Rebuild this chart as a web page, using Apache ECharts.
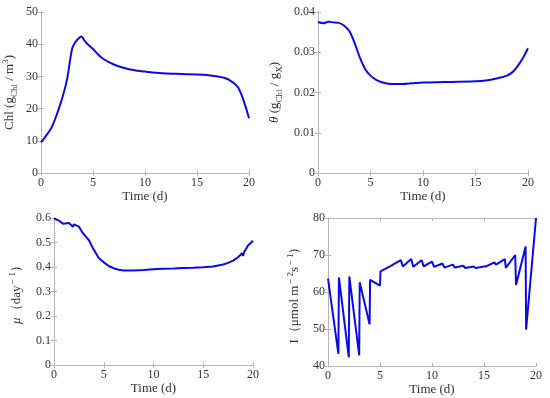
<!DOCTYPE html>
<html><head><meta charset="utf-8">
<script src="https://cdn.jsdelivr.net/npm/echarts@6/dist/echarts.min.js"></script>
<style>html,body{margin:0;padding:0;background:#fff}#c{width:550px;height:398px}</style>
</head><body><div id="c"></div>
<script>
// Panel 1: Chl concentration
const chlT = [0,0.5,1,1.5,2,2.5,3,3.3,3.6,3.9,4.2,4.5,5,5.5,6,7,8,9,10,11,12,13,14,15,16,17,18,19,20];
const chlV = [9.5,11.6,14.0,18.0,22.8,29.0,38.7,40.6,41.8,42.4,41.0,40.0,38.5,36.8,35.4,33.7,32.6,31.9,31.5,31.1,30.9,30.8,30.7,30.6,30.4,30.0,29.1,26.3,17.0];
// Panel 2: theta
const thT = [0,0.5,1,1.5,2,2.5,3,3.5,4,4.5,5,5.5,6,6.5,7,8,9,10,12,15,16,17,18,18.5,19,19.5,20];
const thV = [0.0375,0.0372,0.0376,0.0374,0.0373,0.0366,0.0352,0.0322,0.0286,0.0258,0.0242,0.0232,0.0226,0.0223,0.0221,0.0221,0.0223,0.0225,0.0226,0.0228,0.0230,0.0235,0.0242,0.0250,0.0265,0.0285,0.0310];
// Panel 3: mu
const muT = [0,0.5,0.9,1.0,1.5,1.9,2.0,2.5,2.9,3.0,3.5,4,4.5,5,5.5,6,6.5,7,8,9,10,11,12,13,14,15,16,17,17.5,18,18.5,18.9,19.0,19.1,19.5,20];
const muV = [0.598,0.589,0.577,0.585,0.580,0.564,0.574,0.565,0.538,0.546,0.510,0.470,0.437,0.419,0.404,0.395,0.389,0.386,0.386,0.388,0.391,0.393,0.394,0.396,0.397,0.399,0.402,0.410,0.417,0.426,0.440,0.456,0.445,0.460,0.488,0.507];
// Panel 4: light intensity I
const iT = [0,1,1.05,2,2.05,3,3.05,4,4.05,5,5.05,6,6.15,7,7.2,8,8.2,9,9.2,10,10.2,11,11.2,12,12.2,13,13.2,14,14.2,15,15.2,16,16.15,17,17.1,18,18.08,19,19.05,20];
const iV = [63.6,43.3,63.9,42.3,64.2,42.9,62.6,51.3,63.3,61.7,65.6,67.0,66.5,68.6,66.9,68.9,66.8,68.6,66.9,68.2,66.8,67.7,66.6,67.4,66.6,67.1,66.5,66.9,66.5,66.9,66.9,68.0,67.4,68.9,66.5,70.0,61.9,72.3,49.8,80.0];

const xTicks = [0,5,10,15,20];

const FONT = 'Liberation Serif';
const grids = [
  {left:36, top:12, width:213, height:161},
  {left:318, top:12, width:210, height:161},
  {left:54, top:218, width:199, height:147},
  {left:328, top:218, width:208, height:148}
];
const yCfg = [
  {min:0, max:50, interval:10, fmt:v=>String(v)},
  {min:0, max:0.04, interval:0.01, fmt:v=>v===0?'0':v.toFixed(2)},
  {min:0, max:0.6, interval:0.1, fmt:v=>v===0?'0':v.toFixed(1)},
  {min:40, max:80, interval:10, fmt:v=>String(v)}
];
const rich = {
  n:{fontFamily:FONT,fontSize:13,color:'#333',lineHeight:18},
  it:{fontFamily:FONT,fontSize:13,color:'#333',fontStyle:'italic',lineHeight:18},
  sub:{fontFamily:FONT,fontSize:9,color:'#333',verticalAlign:'bottom',lineHeight:18,padding:[4,0,0,0]},
  sup:{fontFamily:FONT,fontSize:9,color:'#333',verticalAlign:'top',lineHeight:18,padding:[0,0,6,0]}
};
const yNames = [
  '{n|Chl (g}{sub|Chl}{n| / m}{sup|3}{n|)}',
  '{it|θ}{n| (g}{sub|Chl}{n| / g}{sub|X}{n|)}',
  '{it|μ}{n|（day}{sup|－1}{n|）}',
  '{n|I（μmol m}{sup|－2}{n|s}{sup|－1}{n|）}'
];
const yGap = [22,34,28,24];
const axisGray = '#b4b4b4';
const xAxis = [], yAxis = [], series = [];
const data = [[chlT,chlV],[thT,thV],[muT,muV],[iT,iV]];
for (let i=0;i<4;i++){
  xAxis.push({type:'value',gridIndex:i,min:0,max:20,interval:5,position:'bottom',
    name:'Time (d)',nameLocation:'middle',nameGap:14,
    nameTextStyle:{fontFamily:FONT,fontSize:13,color:'#333'},
    axisLine:{show:true,lineStyle:{color:axisGray,width:1}},
    axisTick:{show:true,inside:true,length:3,lineStyle:{color:axisGray}},
    axisLabel:{fontFamily:FONT,fontSize:12,color:'#333',margin:4},
    splitLine:{show:false}});
  xAxis.push({type:'value',gridIndex:i,min:0,max:20,interval:5,position:'top',
    axisLine:{show:true,lineStyle:{color:axisGray,width:1}},
    axisTick:{show:true,inside:true,length:3,lineStyle:{color:axisGray}},
    axisLabel:{show:false},splitLine:{show:false}});
  const c = yCfg[i];
  yAxis.push({type:'value',gridIndex:i,min:c.min,max:c.max,interval:c.interval,position:'left',
    name:yNames[i],nameLocation:'middle',nameGap:yGap[i],nameRotate:90,
    nameTextStyle:{rich:rich},
    axisLine:{show:true,lineStyle:{color:axisGray,width:1}},
    axisTick:{show:true,inside:true,length:3,lineStyle:{color:axisGray}},
    axisLabel:{fontFamily:FONT,fontSize:12,color:'#333',margin:3,formatter:c.fmt},
    splitLine:{show:false}});
  yAxis.push({type:'value',gridIndex:i,min:c.min,max:c.max,interval:c.interval,position:'right',
    axisLine:{show:true,lineStyle:{color:axisGray,width:1}},
    axisTick:{show:true,inside:true,length:3,lineStyle:{color:axisGray}},
    axisLabel:{show:false},splitLine:{show:false}});
  const [T,V] = data[i];
  series.push({type:'line',xAxisIndex:2*i,yAxisIndex:2*i,showSymbol:false,
    smooth:(i<2)?0.3:false,
    lineStyle:{color:'#0a0ae6',width:2},
    data:T.map((t,k)=>[t,V[k]])});
}
const chart = echarts.init(document.getElementById('c'),null,{renderer:'canvas'});
chart.setOption({animation:false,backgroundColor:'#fff',grid:grids,xAxis,yAxis,series});
</script></body></html>
